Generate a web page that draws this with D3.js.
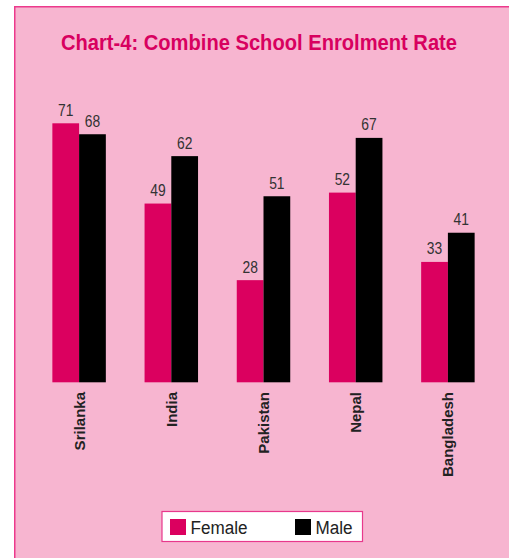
<!DOCTYPE html>
<html>
<head>
<meta charset="utf-8">
<script src="https://cdn.jsdelivr.net/npm/d3@7/dist/d3.min.js"></script>
<style>
  html, body { margin: 0; padding: 0; background: #fff; }
  svg { display: block; }
</style>
</head>
<body>
<svg id="chart"></svg>
<script>
// Chart-4: combine school enrolment rate, female vs male
const countries = ['Srilanka', 'India', 'Pakistan', 'Nepal', 'Bangladesh'];
const female = [71, 49, 28, 52, 33];
const male = [68, 62, 51, 67, 41];
const seriesNames = ['Female', 'Male'];
const seriesColors = ['#DB005F', '#000000'];

const width = 509, height = 558;
const sans = '"Liberation Sans", Arial, sans-serif';

const svg = d3.select('#chart').attr('width', width).attr('height', height);

// pink panel with border on top/left
svg.append('rect')
  .attr('x', 14).attr('y', 6)
  .attr('width', width - 14).attr('height', height - 6)
  .attr('fill', '#F7B5D0');
svg.append('path')
  .attr('d', `M14.75,${height} V6.75 H${width}`)
  .attr('fill', 'none')
  .attr('stroke', '#EC3A8C')
  .attr('stroke-width', 1.5);

svg.append('text')
  .attr('x', 259).attr('y', 50)
  .attr('text-anchor', 'middle')
  .attr('font-family', sans)
  .attr('font-weight', 'bold')
  .attr('font-size', 22.5)
  .attr('textLength', 396)
  .attr('lengthAdjust', 'spacingAndGlyphs')
  .attr('fill', '#D8005F')
  .text('Chart-4: Combine School Enrolment Rate');

const baseY = 382.3;
const y = d3.scaleLinear().domain([0, 71]).range([baseY, 123.3]);

const x0 = d3.scaleBand().domain(countries).range([33, 494])
  .paddingInner(0.42).paddingOuter(0.21);
const x1 = d3.scaleBand().domain(seriesNames).range([0, x0.bandwidth()]);

const rows = countries.map((c, i) => ({ country: c, values: [female[i], male[i]] }));

const groups = svg.append('g').selectAll('g')
  .data(rows)
  .join('g')
  .attr('transform', d => `translate(${x0(d.country)},0)`);

groups.selectAll('rect')
  .data(d => d.values.map((v, j) => ({ key: seriesNames[j], v, j })))
  .join('rect')
  .attr('x', d => x1(d.key))
  .attr('y', d => y(d.v))
  .attr('width', x1.bandwidth())
  .attr('height', d => baseY - y(d.v))
  .attr('fill', d => seriesColors[d.j]);

// value labels, squeezed horizontally to look like a narrow face
groups.selectAll('text.val')
  .data(d => d.values.map((v, j) => ({ key: seriesNames[j], v })))
  .join('text')
  .attr('class', 'val')
  .attr('transform', d => `translate(${x1(d.key) + x1.bandwidth() / 2},${y(d.v) - 7.5}) scale(0.84,1)`)
  .attr('text-anchor', 'middle')
  .attr('font-family', sans)
  .attr('font-size', 16.5)
  .attr('fill', '#333')
  .text(d => d.v);

// rotated category labels
svg.append('g').selectAll('text')
  .data(countries)
  .join('text')
  .attr('transform', d => `translate(${x0(d) + x0.bandwidth() / 2},392) rotate(-90)`)
  .attr('dy', '0.36em')
  .attr('text-anchor', 'end')
  .attr('font-family', sans)
  .attr('font-weight', 'bold')
  .attr('font-size', 15)
  .attr('fill', '#222')
  .text(d => d);

// legend
const legend = svg.append('g');
legend.append('rect')
  .attr('x', 162).attr('y', 511.5)
  .attr('width', 200.5).attr('height', 30)
  .attr('fill', '#fff')
  .attr('stroke', '#E8388C')
  .attr('stroke-width', 1.2);
const legendX = [170, 295];
seriesNames.forEach((name, i) => {
  legend.append('rect')
    .attr('x', legendX[i]).attr('y', 519)
    .attr('width', 16).attr('height', 16)
    .attr('fill', seriesColors[i]);
  legend.append('text')
    .attr('transform', `translate(${legendX[i] + 20.5},534.3) scale(0.9,1)`)
    .attr('font-family', sans)
    .attr('font-size', 19)
    .attr('fill', '#222')
    .text(name);
});
</script>
</body>
</html>
